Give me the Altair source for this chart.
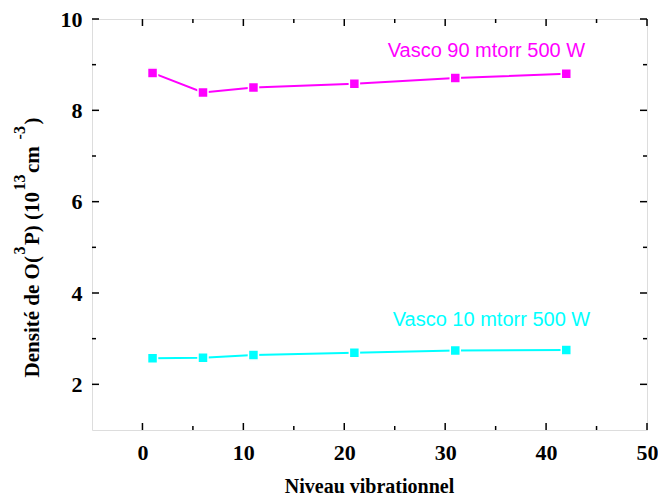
import altair as alt
import pandas as pd

# ---- data ----
levels = [1, 6, 11, 21, 31, 42]
o_90mtorr = [8.82, 8.39, 8.50, 8.58, 8.71, 8.80]
o_10mtorr = [2.57, 2.58, 2.64, 2.69, 2.74, 2.75]
series_names = ["Vasco 90 mtorr 500 W", "Vasco 10 mtorr 500 W"]
series_colors = ["#FF00FF", "#00FFFF"]
label_x = [24.3, 24.8]
label_y = [9.16, 3.27]

x_major = [0, 10, 20, 30, 40, 50]
x_minor = [5, 15, 25, 35, 45]
y_major = [2, 4, 6, 8, 10]
y_minor = [3, 5, 7, 9]

x_title = "Niveau vibrationnel"
y_title_parts = ["Densité de O(", "3", "P) (10", "13", " cm", "-3", ")"]
y_title_sup = [False, True, False, True, False, True, False]

W, H = 555, 411
PAD_L, PAD_T = 84, 11
SERIF = "Liberation Serif"
SANS = "Liberation Sans"

rows = []
for name, vals in zip(series_names, [o_90mtorr, o_10mtorr]):
    for lv, v in zip(levels, vals):
        rows.append({"niveau": lv, "densite": v, "serie": name})
df = pd.DataFrame(rows)
labels_df = pd.DataFrame({"x": label_x, "y": label_y, "serie": series_names})

xs = alt.Scale(domain=[-5, 50], nice=False, zero=False)
ys = alt.Scale(domain=[1, 10], nice=False, zero=False)
color = alt.Color("serie:N", scale=alt.Scale(domain=series_names, range=series_colors), legend=None)

x_axis = alt.Axis(values=x_major, ticks=False, tickSize=0, grid=False, domain=False,
                  labelFont=SERIF, labelFontWeight="bold", labelFontSize=22, labelColor="black",
                  labelPadding=12, labelFlush=False, labelOverlap=False,
                  title=x_title, titleFont=SERIF,
                  titleFontWeight="bold", titleFontSize=20, titleColor="black",
                  titleX=369 - 8 - PAD_L, titleY=62, titleAlign="center",
                  titleBaseline="alphabetic", format="d")
y_axis = alt.Axis(values=y_major, ticks=False, tickSize=0, grid=False, domain=False,
                  labelFont=SERIF, labelFontWeight="bold", labelFontSize=22, labelColor="black",
                  labelPadding=10, labelFlush=False, labelOverlap=False,
                  title="", format="d")

base = alt.Chart(df)
lines = base.mark_line(strokeWidth=2).encode(
    x=alt.X("niveau:Q", scale=xs, axis=x_axis),
    y=alt.Y("densite:Q", scale=ys, axis=y_axis),
    color=color,
    detail="serie:N",
)
points = base.mark_point(shape="square", filled=True, size=100, opacity=1,
                         stroke="white", strokeWidth=1.5).encode(
    x=alt.X("niveau:Q", scale=xs),
    y=alt.Y("densite:Q", scale=ys),
    fill=alt.Fill("serie:N", scale=alt.Scale(domain=series_names, range=series_colors), legend=None),
)
texts = alt.Chart(labels_df).mark_text(font=SANS, fontSize=20, align="left",
                                       baseline="alphabetic").encode(
    x=alt.X("x:Q", scale=xs),
    y=alt.Y("y:Q", scale=ys),
    text="serie:N",
    color=color,
)

def tick_layer(vals, orient, length):
    d = pd.DataFrame({"v": vals})
    c = alt.Chart(d).mark_rule(color="black", strokeWidth=1.5)
    if orient == "bottom":
        return c.encode(x=alt.X("v:Q", scale=xs), y=alt.value(H), y2=alt.value(H - length))
    if orient == "top":
        return c.encode(x=alt.X("v:Q", scale=xs), y=alt.value(0), y2=alt.value(length))
    if orient == "left":
        return c.encode(y=alt.Y("v:Q", scale=ys), x=alt.value(0), x2=alt.value(length))
    return c.encode(y=alt.Y("v:Q", scale=ys), x=alt.value(W), x2=alt.value(W - length))

ticks = []
for side in ["bottom", "top"]:
    ticks.append(tick_layer(x_major, side, 7))
    ticks.append(tick_layer(x_minor, side, 4))
for side in ["left", "right"]:
    ticks.append(tick_layer(y_major, side, 7))
    ticks.append(tick_layer(y_minor, side, 4))

# ---- rotated y title with true superscripts (layout only) ----
TB = {"D": 722, "e": 444, "n": 556, "s": 389, "i": 278, "t": 333, "é": 444, " ": 250,
      "d": 556, "O": 778, "(": 333, ")": 333, "P": 611, "1": 500, "0": 500, "3": 500,
      "c": 444, "m": 833, "-": 333}
MAIN_FS, SUP_FS = 21, 16
GAP = 1.5
widths = []
for part, sup in zip(y_title_parts, y_title_sup):
    fs = SUP_FS if sup else MAIN_FS
    widths.append(sum(TB.get(ch, 500) for ch in part) / 1000 * fs)
total = sum(widths) + GAP * (len(widths) - 1)
center_y = 247.5 - 8 - PAD_T          # view coords
pos = center_y + total / 2
title_layers = []
for part, sup, w in zip(y_title_parts, y_title_sup, widths):
    fs = SUP_FS if sup else MAIN_FS
    bx = (25 if sup else 38.5) - 8 - PAD_L
    title_layers.append(
        alt.Chart(pd.DataFrame({"t": [part]})).mark_text(
            angle=270, align="left", baseline="alphabetic", font=SERIF,
            fontWeight="bold", fontSize=fs, color="black"
        ).encode(x=alt.value(bx), y=alt.value(pos), text="t:N")
    )
    pos -= w + GAP

chart = alt.layer(lines, points, texts, *ticks, *title_layers).properties(
    width=W, height=H,
    padding={"left": PAD_L, "top": PAD_T, "right": 650 - PAD_L - W, "bottom": 485 - PAD_T - H},
    autosize=alt.AutoSizeParams(type="none"),
).configure_view(stroke="black", strokeWidth=2).configure(background="white")

chart.save("out.html", embed_options={"renderer": "svg", "actions": False})
